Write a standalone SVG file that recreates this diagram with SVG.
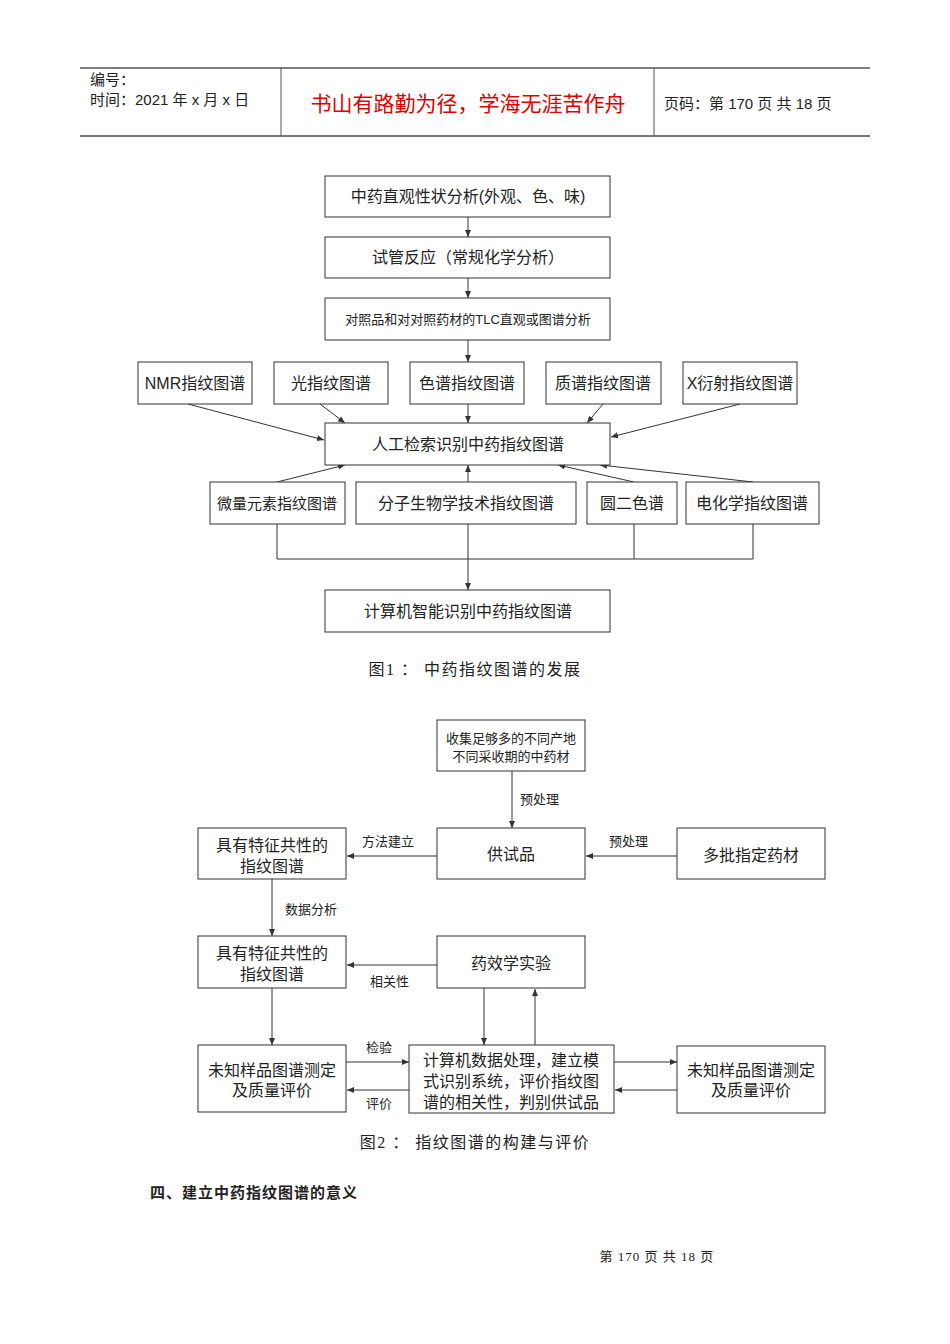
<svg xmlns="http://www.w3.org/2000/svg" width="950" height="1344" viewBox="0 0 950 1344">
<style>
text{font-family:"Liberation Sans","Noto Sans CJK SC",sans-serif;fill:#222}
.b{fill:#fff;stroke:#333;stroke-width:1}
.t{font-size:16px;text-anchor:middle}
.sm{font-size:13px}
.s{font-size:13px}
.l{stroke:#333;stroke-width:1;fill:none}
.a{stroke:#333;stroke-width:1;fill:none;marker-end:url(#ar)}
.cap{font-family:"Liberation Serif","Noto Sans CJK SC",serif;font-size:16px;text-anchor:middle;letter-spacing:1.5px}
</style>
<defs><marker id="ar" markerWidth="8" markerHeight="8" refX="7" refY="4" orient="auto" markerUnits="userSpaceOnUse"><path d="M0,1 L7,4 L0,7 Z" fill="#333"/></marker></defs>
<rect width="950" height="1344" fill="#fff"/>
<g id="header">
<line x1="80" y1="68" x2="870" y2="68" stroke="#555" stroke-width="1.5"/>
<line x1="80" y1="136" x2="870" y2="136" stroke="#777" stroke-width="2"/>
<line x1="281" y1="68" x2="281" y2="136" stroke="#555"/>
<line x1="654" y1="68" x2="654" y2="136" stroke="#555"/>
<text x="90" y="85" font-size="15">编号：</text>
<text x="90" y="105" font-size="15">时间：2021 年 x 月 x 日</text>
<text x="468" y="111" font-size="21" text-anchor="middle" style="fill:#e00000">书山有路勤为径，学海无涯苦作舟</text>
<text x="664" y="109" font-size="15">页码：第 170 页  共 18 页</text>
</g>
<g id="connectors">
<line class="a" x1="468" y1="217" x2="468" y2="237"/>
<line class="a" x1="468" y1="278" x2="468" y2="298"/>
<line class="a" x1="468" y1="340" x2="468" y2="362"/>
<line class="a" x1="188" y1="404" x2="324" y2="440"/>
<line class="a" x1="320" y1="404" x2="345" y2="423"/>
<line class="a" x1="468" y1="404" x2="468" y2="423"/>
<line class="a" x1="603" y1="404" x2="587" y2="423"/>
<line class="a" x1="740" y1="404" x2="611" y2="437"/>
<line class="a" x1="277" y1="482" x2="345" y2="465"/>
<line class="a" x1="468" y1="482" x2="468" y2="465"/>
<line class="a" x1="634" y1="482" x2="558" y2="465"/>
<line class="a" x1="753" y1="482" x2="600" y2="465"/>
<polyline class="l" points="277,524 277,559 753,559 753,524"/>
<line class="l" x1="634" y1="524" x2="634" y2="559"/>
<line class="a" x1="468" y1="524" x2="468" y2="590"/>
<line class="a" x1="512" y1="771" x2="512" y2="828"/>
<line class="a" x1="677" y1="856" x2="586" y2="856"/>
<line class="a" x1="437" y1="856" x2="347" y2="856"/>
<line class="a" x1="272" y1="879" x2="272" y2="936"/>
<line class="a" x1="437" y1="965" x2="347" y2="965"/>
<line class="a" x1="272" y1="988" x2="272" y2="1045"/>
<line class="a" x1="484" y1="988" x2="484" y2="1045"/>
<line class="a" x1="535" y1="1045" x2="535" y2="989"/>
<line class="a" x1="346" y1="1062" x2="409" y2="1062"/>
<line class="a" x1="409" y1="1090" x2="347" y2="1090"/>
<line class="a" x1="614" y1="1062" x2="677" y2="1062"/>
<line class="a" x1="677" y1="1090" x2="615" y2="1090"/>
<text class="s" x="520" y="804">预处理</text>
<text class="s" x="609" y="846">预处理</text>
<text class="s" x="362" y="846">方法建立</text>
<text class="s" x="285" y="914">数据分析</text>
<text class="s" x="370" y="986">相关性</text>
<text class="s" x="366" y="1052">检验</text>
<text class="s" x="366" y="1108">评价</text>
</g>
<g id="n1"><rect class="b" x="325" y="176" width="285" height="41"/><text class="t" x="468" y="202">中药直观性状分析(外观、色、味)</text></g>
<g id="n2"><rect class="b" x="325" y="237" width="285" height="41"/><text class="t" x="468" y="263">试管反应（常规化学分析）</text></g>
<g id="n3"><rect class="b" x="325" y="298" width="285" height="42"/><text class="t" x="468" y="324" style="font-size:13px">对照品和对对照药材的TLC直观或图谱分析</text></g>
<g id="n4"><rect class="b" x="138" y="362" width="114" height="42"/><text class="t" x="195" y="389">NMR指纹图谱</text></g>
<g id="n5"><rect class="b" x="274" y="362" width="114" height="42"/><text class="t" x="331" y="389">光指纹图谱</text></g>
<g id="n6"><rect class="b" x="410" y="362" width="114" height="42"/><text class="t" x="467" y="389">色谱指纹图谱</text></g>
<g id="n7"><rect class="b" x="546" y="362" width="115" height="42"/><text class="t" x="603" y="389">质谱指纹图谱</text></g>
<g id="n8"><rect class="b" x="683" y="362" width="114" height="42"/><text class="t" x="740" y="389">X衍射指纹图谱</text></g>
<g id="n9"><rect class="b" x="325" y="423" width="285" height="42"/><text class="t" x="468" y="450">人工检索识别中药指纹图谱</text></g>
<g id="n10"><rect class="b" x="210" y="482" width="135" height="42"/><text class="t" x="277" y="509" style="font-size:15px">微量元素指纹图谱</text></g>
<g id="n11"><rect class="b" x="356" y="482" width="220" height="42"/><text class="t" x="466" y="509">分子生物学技术指纹图谱</text></g>
<g id="n12"><rect class="b" x="587" y="482" width="90" height="42"/><text class="t" x="632" y="509">圆二色谱</text></g>
<g id="n13"><rect class="b" x="686" y="482" width="133" height="42"/><text class="t" x="752" y="509">电化学指纹图谱</text></g>
<g id="n14"><rect class="b" x="325" y="590" width="285" height="42"/><text class="t" x="468" y="617">计算机智能识别中药指纹图谱</text></g>
<text class="cap" x="475" y="675">图1 ： 中药指纹图谱的发展</text>
<g id="m1"><rect class="b" x="437" y="720" width="148" height="51"/><text class="t" x="511" y="743" style="font-size:13px">收集足够多的不同产地</text><text class="t" x="511" y="761" style="font-size:13px">不同采收期的中药材</text></g>
<g id="m2"><rect class="b" x="437" y="828" width="148" height="51"/><text class="t" x="511" y="860">供试品</text></g>
<g id="m3"><rect class="b" x="677" y="828" width="148" height="51"/><text class="t" x="751" y="861">多批指定药材</text></g>
<g id="m4"><rect class="b" x="198" y="828" width="148" height="51"/><text class="t" x="272" y="851">具有特征共性的</text><text class="t" x="272" y="872">指纹图谱</text></g>
<g id="m5"><rect class="b" x="198" y="936" width="148" height="52"/><text class="t" x="272" y="959">具有特征共性的</text><text class="t" x="272" y="980">指纹图谱</text></g>
<g id="m6"><rect class="b" x="437" y="936" width="148" height="52"/><text class="t" x="511" y="969">药效学实验</text></g>
<g id="m7"><rect class="b" x="198" y="1045" width="148" height="67"/><text class="t" x="272" y="1076">未知样品图谱测定</text><text class="t" x="272" y="1096">及质量评价</text></g>
<g id="m8"><rect class="b" x="409" y="1045" width="205" height="68"/><text class="t" x="511" y="1066">计算机数据处理，建立模</text><text class="t" x="511" y="1087">式识别系统，评价指纹图</text><text class="t" x="511" y="1108">谱的相关性，判别供试品</text></g>
<g id="m9"><rect class="b" x="677" y="1046" width="148" height="67"/><text class="t" x="751" y="1076">未知样品图谱测定</text><text class="t" x="751" y="1096">及质量评价</text></g>
<text class="cap" x="475" y="1148">图2 ： 指纹图谱的构建与评价</text>
<text x="150" y="1198" font-size="15" font-weight="bold" letter-spacing="1">四、建立中药指纹图谱的意义</text>
<text x="657" y="1261" font-size="13" text-anchor="middle" letter-spacing="1" style="font-family:'Liberation Serif','Noto Sans CJK SC',serif">第 170 页 共 18 页</text>
</svg>
